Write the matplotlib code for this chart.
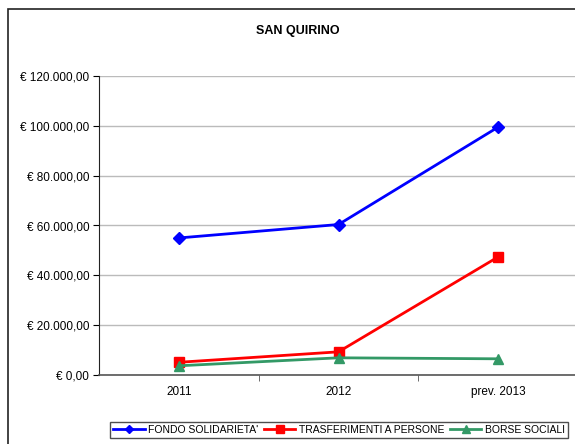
import matplotlib

matplotlib.use("Agg")
import matplotlib.pyplot as plt
from matplotlib.patches import Rectangle
from matplotlib.ticker import FuncFormatter

plt.rcParams["font.family"] = ["Liberation Sans", "DejaVu Sans"]

YEARS = ["2011", "2012", "prev. 2013"]
FONDO = [55000, 60400, 99500]
TRASF = [5100, 9300, 47400]
BORSE = [3700, 6900, 6500]
YTICKS = [0, 20000, 40000, 60000, 80000, 100000, 120000]

W, H = 575, 444


def euro(v, _pos=None):
    s = f"{v:,.2f}".replace(",", "X").replace(".", ",").replace("X", ".")
    return f"€ {s}"


fig = plt.figure(figsize=(W / 100, H / 100), dpi=100)
fig.patch.set_facecolor("white")

# outer chart frame (runs off the right and bottom edge)
fig.add_artist(Rectangle((8 / W, -0.05), 1.0, 1 - 9 / H + 0.05,
                         transform=fig.transFigure, fill=False,
                         edgecolor="#222222", linewidth=1.2))

ax = fig.add_axes([99 / W, 1 - 375 / H, (578 - 99) / W, (375 - 76) / H])
x = range(len(YEARS))
ax.plot(x, FONDO, "-D", color="#0000ff", lw=2, ms=6, label="FONDO SOLIDARIETA'")
ax.plot(x, TRASF, "-s", color="#ff0000", lw=2, ms=7, label="TRASFERIMENTI A PERSONE")
ax.plot(x, BORSE, "-^", color="#339966", lw=2, ms=7.5, label="BORSE SOCIALI")

ax.set_xlim(-0.5, 2.5)
ax.set_ylim(0, 120000)
ax.set_yticks(YTICKS)
ax.yaxis.set_major_formatter(FuncFormatter(euro))
ax.set_xticks(list(x))
ax.set_xticklabels(YEARS)
ax.set_xticks([0.5, 1.5], minor=True)
ax.tick_params(axis="x", which="major", length=0, pad=8, labelsize=8.5)
ax.tick_params(axis="x", which="minor", length=4, color="#555555")
ax.tick_params(axis="y", length=4, labelsize=8.5, pad=3)
ax.grid(axis="y", color="#bbbbbb", lw=1)
ax.set_axisbelow(True)
for s in ("top", "right"):
    ax.spines[s].set_visible(False)
ax.spines["left"].set_color("#222222")
ax.spines["bottom"].set_color("#555555")
ax.spines["bottom"].set_linewidth(1.2)

fig.text(298 / W, 1 - 31 / H, "SAN QUIRINO", ha="center", va="center",
         fontsize=9, fontweight="bold")

leg = fig.legend(loc="center", bbox_to_anchor=(339 / W, 1 - 430 / H), ncol=3,
                 fontsize=7.5, frameon=True, fancybox=False, handlelength=3.0,
                 handletextpad=0.3, columnspacing=0.6, borderpad=0.3,
                 markerscale=0.75)
leg.get_frame().set_edgecolor("#222222")
leg.get_frame().set_linewidth(1)

fig.savefig("out.png", dpi=100)
